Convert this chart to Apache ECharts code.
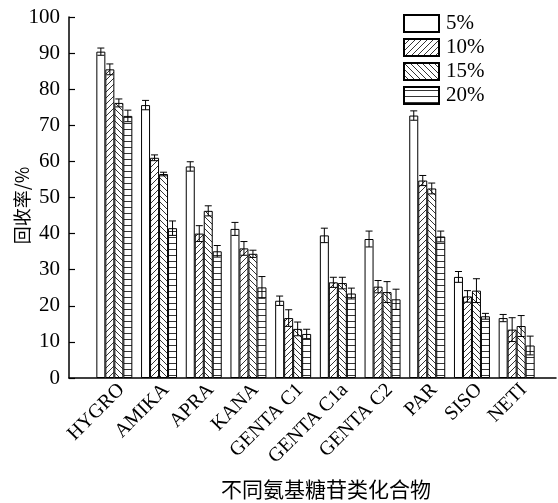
<!DOCTYPE html>
<html lang="zh">
<head>
    <meta charset="UTF-8">
    <title>回收率</title>
    <style>
        html, body { margin: 0; padding: 0; background: #fff; }
        #main { width: 558px; height: 503px; }
    </style>
</head>
<body>
<div id="main"></div>
<script src="https://cdn.jsdelivr.net/npm/echarts@6/dist/echarts.min.js"></script>
<script>
    // 化合物
    var categories = ['HYGRO', 'AMIKA', 'APRA', 'KANA', 'GENTA C1', 'GENTA C1a', 'GENTA C2', 'PAR', 'SISO', 'NETI'];
    var seriesNames = ['5%', '10%', '15%', '20%'];

    // 回收率 (%)
    var rate5 = [90.4, 75.6, 58.6, 41.3, 21.4, 39.5, 38.5, 72.7, 28.0, 16.6];
    var rate10 = [85.5, 61.0, 40.0, 35.9, 16.6, 26.5, 25.3, 54.7, 22.6, 13.4];
    var rate15 = [76.2, 56.5, 46.3, 34.4, 13.6, 26.3, 23.8, 52.5, 24.2, 14.4];
    var rate20 = [72.6, 41.5, 35.1, 25.1, 12.2, 23.4, 21.8, 39.2, 17.1, 9.0];

    // 误差
    var err5 = [1.0, 1.3, 1.3, 1.8, 1.3, 2.0, 2.2, 1.3, 1.5, 1.0];
    var err10 = [1.5, 0.8, 2.2, 1.9, 2.3, 1.4, 1.7, 1.4, 1.6, 3.3];
    var err15 = [1.1, 0.5, 1.4, 1.0, 1.9, 1.6, 2.9, 1.5, 3.3, 2.9];
    var err20 = [1.6, 2.0, 1.6, 3.0, 1.3, 1.5, 2.8, 1.5, 0.8, 2.6];

    var yTicks = [0, 100, 10]; // min, max, interval

    var rates = [rate5, rate10, rate15, rate20];
    var errs = [err5, err10, err15, err20];
    var GAP = 0.195;

    function makePattern(kind) {
        var s = 6;
        if (kind === 'none') {
            return '#fff';
        }
        var c = document.createElement('canvas');
        c.width = s;
        c.height = s;
        var ctx = c.getContext('2d');
        ctx.fillStyle = '#fff';
        ctx.fillRect(0, 0, s, s);
        ctx.strokeStyle = '#000';
        ctx.lineWidth = 0.8;
        ctx.beginPath();
        if (kind === '/') {
            ctx.moveTo(-1, s + 1); ctx.lineTo(s + 1, -1);
            ctx.moveTo(-1, 1); ctx.lineTo(1, -1);
            ctx.moveTo(s - 1, s + 1); ctx.lineTo(s + 1, s - 1);
        } else if (kind === '\\') {
            ctx.moveTo(-1, -1); ctx.lineTo(s + 1, s + 1);
            ctx.moveTo(s - 1, -1); ctx.lineTo(s + 1, 1);
            ctx.moveTo(-1, s - 1); ctx.lineTo(1, s + 1);
        } else {
            ctx.moveTo(0, 3.5); ctx.lineTo(s, 3.5);
        }
        ctx.stroke();
        return {image: c, repeat: 'repeat'};
    }

    var patterns = [makePattern('none'), makePattern('/'), makePattern('\\'), makePattern('-')];

    var series = [];
    seriesNames.forEach(function (name, i) {
        series.push({
            name: name,
            type: 'bar',
            xAxisIndex: 1,
            yAxisIndex: 1,
            barGap: '0%',
            barCategoryGap: (GAP * 100) + '%',
            itemStyle: {
                color: patterns[i],
                borderColor: '#000',
                borderWidth: 1
            },
            data: rates[i]
        });
    });
    seriesNames.forEach(function (name, i) {
        series.push({
            type: 'custom',
            xAxisIndex: 1,
            yAxisIndex: 1,
            z: 10,
            silent: true,
            data: rates[i].map(function (v, k) { return [k, v, errs[i][k]]; }),
            renderItem: function (params, api) {
                var k = api.value(0), v = api.value(1), e = api.value(2);
                var band = api.size([1, 0])[0];
                var bw = band * (1 - GAP) / 4;
                var x = api.coord([k, v])[0] + (i - 1.5) * bw;
                var top = api.coord([k, v + e])[1];
                var bot = api.coord([k, v - e])[1];
                var hw = 3.5;
                var st = {stroke: '#000', lineWidth: 1};
                return {
                    type: 'group',
                    children: [
                        {type: 'line', shape: {x1: x, y1: top, x2: x, y2: bot}, style: st},
                        {type: 'line', shape: {x1: x - hw, y1: top, x2: x + hw, y2: top}, style: st},
                        {type: 'line', shape: {x1: x - hw, y1: bot, x2: x + hw, y2: bot}, style: st}
                    ]
                };
            }
        });
    });

    var chart = echarts.init(document.getElementById('main'));
    var option = {
        animation: false,
        backgroundColor: '#fff',
        textStyle: {fontFamily: 'Liberation Serif', color: '#000'},
        legend: {
            data: seriesNames,
            orient: 'vertical',
            left: 403,
            top: 13,
            icon: 'rect',
            itemWidth: 35,
            itemHeight: 17,
            itemGap: 3,
            padding: 0,
            textStyle: {fontSize: 21, fontFamily: 'Liberation Serif', color: '#000', padding: [0, 0, 0, 2]}
        },
        grid: [
            {left: 69, right: 2, top: 17, bottom: 125, outerBoundsMode: 'none', containLabel: false},
            {left: 92, right: 19, top: 17, bottom: 125, outerBoundsMode: 'none', containLabel: false}
        ],
        xAxis: [
            {
                gridIndex: 0,
                type: 'value',
                min: 0,
                max: 1,
                axisLine: {show: true, lineStyle: {color: '#000', width: 1.5}},
                axisTick: {show: false},
                axisLabel: {show: false},
                splitLine: {show: false},
                name: '不同氨基糖苷类化合物',
                nameLocation: 'middle',
                nameGap: 101,
                nameTextStyle: {fontSize: 21, fontFamily: 'Noto Sans CJK SC', color: '#000', padding: [0, 0, 0, 27]}
            },
            {
                gridIndex: 1,
                type: 'category',
                data: categories,
                axisLine: {show: false},
                axisTick: {show: false},
                axisLabel: {rotate: 45, margin: 16, fontSize: 20, color: '#000', fontFamily: 'Liberation Serif', interval: 0, padding: [0, -10, 0, 0]}
            }
        ],
        yAxis: [
            {
                gridIndex: 0,
                type: 'value',
                min: yTicks[0],
                max: yTicks[1],
                interval: yTicks[2],
                axisLine: {show: true, lineStyle: {color: '#000', width: 1.5}},
                axisTick: {show: true, inside: true, length: 6, lineStyle: {color: '#000', width: 1.2}},
                axisLabel: {fontSize: 21, color: '#000', margin: 9, fontFamily: 'Liberation Serif'},
                splitLine: {show: false},
                name: '回收率/%',
                nameLocation: 'middle',
                nameRotate: 90,
                nameGap: 38,
                nameMoveOverlap: false,
                nameTextStyle: {fontSize: 18, fontFamily: 'Noto Sans CJK SC', color: '#000', padding: [0, 16, 0, 0]}
            },
            {
                gridIndex: 1,
                type: 'value',
                min: yTicks[0],
                max: yTicks[1],
                interval: yTicks[2],
                show: false
            }
        ],
        series: series
    };
    option && chart.setOption(option);
</script>
</body>
</html>
